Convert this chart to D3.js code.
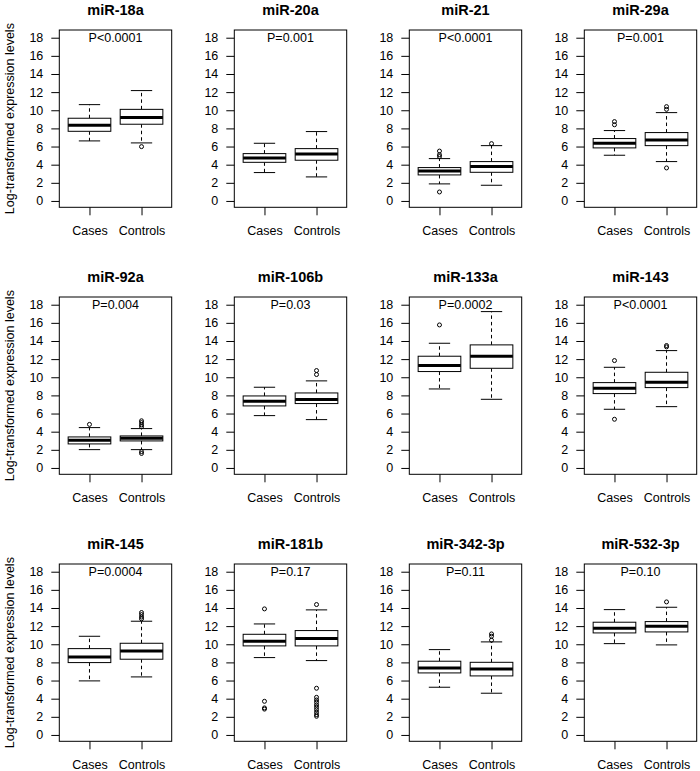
<!DOCTYPE html>
<html>
<head>
<meta charset="utf-8">
<script src="https://cdn.jsdelivr.net/npm/d3@7"></script>
<style>
  html, body { margin: 0; padding: 0; background: #fff; }
  svg { display: block; font-family: "Liberation Sans", Arial, Helvetica, sans-serif; }
</style>
</head>
<body>
<svg id="chart" width="700" height="771"></svg>
<script>
// ---------------- data ----------------
const mirnas = ["miR-18a","miR-20a","miR-21","miR-29a",
                "miR-92a","miR-106b","miR-133a","miR-143",
                "miR-145","miR-181b","miR-342-3p","miR-532-3p"];
const pLabels = ["P<0.0001","P=0.001","P<0.0001","P=0.001",
                 "P=0.004","P=0.03","P=0.0002","P<0.0001",
                 "P=0.0004","P=0.17","P=0.11","P=0.10"];
const groups = ["Cases","Controls"];
const yTicks = [0,2,4,6,8,10,12,14,16,18];
// [lower whisker, Q1, median, Q3, upper whisker]
const casesStats = [
  [6.62, 7.68, 8.35, 9.12, 10.62],
  [3.13, 4.26, 4.74, 5.22, 6.36],
  [1.88, 2.87, 3.31, 3.68, 4.67],
  [5.04, 5.85, 6.36, 6.88, 7.76],
  [2.02, 2.65, 3.05, 3.42, 4.45],
  [5.77, 6.84, 7.35, 7.94, 8.90],
  [8.71, 10.63, 11.29, 12.32, 13.75],
  [6.47, 8.20, 8.79, 9.41, 11.10],
  [5.96, 7.98, 8.60, 9.52, 10.88],
  [8.53, 9.82, 10.33, 11.10, 12.24],
  [5.26, 6.84, 7.39, 8.13, 9.41],
  [10.07, 11.25, 11.76, 12.43, 13.82]
];
const controlsStats = [
  [6.40, 8.46, 9.20, 10.10, 12.17],
  [2.65, 4.49, 5.18, 5.77, 7.65],
  [1.73, 3.16, 3.79, 4.34, 6.10],
  [4.34, 6.10, 6.73, 7.54, 9.74],
  [2.02, 2.98, 3.27, 3.53, 4.34],
  [5.33, 7.10, 7.54, 8.27, 9.60],
  [7.57, 10.99, 12.32, 13.57, 17.24],
  [6.76, 8.86, 9.45, 10.55, 12.94],
  [6.40, 8.35, 9.26, 10.11, 12.54],
  [8.20, 9.82, 10.63, 11.51, 13.79],
  [4.60, 6.51, 7.28, 8.01, 10.26],
  [9.93, 11.36, 11.99, 12.50, 14.08]
];
const casesOutliers = [
  [],
  [],
  [5.5, 5.1, 4.9, 0.99],
  [8.75, 8.4],
  [4.8],
  [],
  [15.77],
  [11.84, 5.37],
  [],
  [13.9, 3.71, 2.98, 2.85],
  [],
  []
];
const controlsOutliers = [
  [5.99],
  [],
  [6.32],
  [10.4, 10.1, 3.64],
  [5.2, 5.0, 4.75, 4.55, 1.8, 1.6],
  [10.74, 10.3],
  [],
  [13.5, 13.35],
  [13.5, 13.27, 13.0, 12.8],
  [14.38, 5.15, 4.15, 3.86, 3.6, 3.31, 3.05, 2.79, 2.5, 2.24, 2.06],
  [11.14, 10.88, 10.45],
  [14.67]
];

// ---------------- layout ----------------
const svg = d3.select("#chart");
const colW = 175, rowH = 267;
const plotL = 59.3, plotR = 171.7, plotT0 = 30, plotH = 177.3;
const font = 12.5;

const x = d3.scaleLinear().domain([0.42, 2.58]).range([plotL, plotR]);
const boxW = x(1.82) - x(1);      // 0.82 units wide
const stapleW = boxW / 2;

mirnas.forEach((name, i) => {
  const col = i % 4, row = Math.floor(i / 4);
  const top = plotT0 + row * rowH;
  const g = svg.append("g").attr("transform", `translate(${col * colW},${top})`);
  const y = d3.scaleLinear().domain([-0.7, 18.85]).range([plotH, 0]);

  // y axis
  const ya = g.append("g").attr("transform", `translate(${plotL},0)`)
    .call(d3.axisLeft(y).tickValues(yTicks).tickSize(8).tickPadding(8).tickFormat(d3.format("d")));
  ya.select(".domain").remove();
  ya.selectAll("text").attr("font-size", font).attr("fill", "#000").attr("font-family", null);
  ya.selectAll("line").attr("stroke", "#000");

  // x axis
  const xa = g.append("g").attr("transform", `translate(0,${plotH})`)
    .call(d3.axisBottom(x).tickValues([1, 2]).tickSize(8).tickPadding(10.5).tickFormat((d) => groups[d - 1]));
  xa.select(".domain").remove();
  xa.selectAll("text").attr("font-size", font).attr("fill", "#000").attr("font-family", null);
  xa.selectAll("line").attr("stroke", "#000");

  // frame
  g.append("rect").attr("x", plotL).attr("y", 0)
    .attr("width", plotR - plotL).attr("height", plotH)
    .attr("fill", "none").attr("stroke", "#000").attr("stroke-width", 1);

  // title
  g.append("text").attr("x", (plotL + plotR) / 2).attr("y", -15.5)
    .attr("text-anchor", "middle").attr("font-weight", "bold").attr("font-size", 14.5)
    .text(name);

  // p-value
  g.append("text").attr("x", (plotL + plotR) / 2).attr("y", 12.3)
    .attr("text-anchor", "middle").attr("font-size", font)
    .text(pLabels[i]);

  // y label (first column only)
  if (col === 0) {
    g.append("text")
      .attr("transform", `translate(13.5,${plotH / 2}) rotate(-90)`)
      .attr("text-anchor", "middle").attr("font-size", 12.5)
      .text("Log-transformed expression levels");
  }

  const statsList = [casesStats[i], controlsStats[i]];
  const outList = [casesOutliers[i], controlsOutliers[i]];
  statsList.forEach((s, k) => {
    const cx = x(k + 1);
    const [lo, q1, med, q3, hi] = s;
    // whiskers (dashed)
    g.append("line").attr("x1", cx).attr("x2", cx).attr("y1", y(q3)).attr("y2", y(hi))
      .attr("stroke", "#000").attr("stroke-dasharray", "3.5,3");
    g.append("line").attr("x1", cx).attr("x2", cx).attr("y1", y(q1)).attr("y2", y(lo))
      .attr("stroke", "#000").attr("stroke-dasharray", "3.5,3");
    // staples
    [lo, hi].forEach(v => {
      g.append("line").attr("x1", cx - stapleW / 2).attr("x2", cx + stapleW / 2)
        .attr("y1", y(v)).attr("y2", y(v)).attr("stroke", "#000");
    });
    // box
    g.append("rect").attr("x", cx - boxW / 2).attr("y", y(q3))
      .attr("width", boxW).attr("height", y(q1) - y(q3))
      .attr("fill", "#fff").attr("stroke", "#000").attr("stroke-width", 1);
    // median
    g.append("line").attr("x1", cx - boxW / 2).attr("x2", cx + boxW / 2)
      .attr("y1", y(med)).attr("y2", y(med)).attr("stroke", "#000").attr("stroke-width", 3);
    // outliers
    outList[k].forEach(v => {
      g.append("circle").attr("cx", cx).attr("cy", y(v)).attr("r", 2)
        .attr("fill", "none").attr("stroke", "#000").attr("stroke-width", 1);
    });
  });
});
</script>
</body>
</html>
